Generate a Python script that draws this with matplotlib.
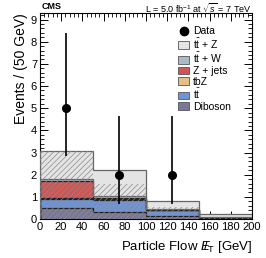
import numpy as np
import matplotlib
matplotlib.use("Agg")
import matplotlib.pyplot as plt
from matplotlib.ticker import MultipleLocator
from matplotlib.patches import Patch
from matplotlib.lines import Line2D

plt.rcParams['font.family'] = ['Liberation Sans', 'DejaVu Sans']
plt.rcParams['mathtext.fontset'] = 'custom'
plt.rcParams['mathtext.rm'] = 'Liberation Sans'
plt.rcParams['mathtext.it'] = 'Liberation Sans:italic'
plt.rcParams['hatch.linewidth'] = 0.5

edges = [0, 50, 100, 150, 200]
centers = [25, 75, 125, 175]
diboson = [0.50, 0.30, 0.13, 0.02]
ttbar = [0.40, 0.55, 0.27, 0.03]
tbz = [0.05, 0.05, 0.00, 0.00]
zjets = [0.77, 0.05, 0.00, 0.00]
ttw = [0.08, 0.10, 0.05, 0.02]
ttz = [1.25, 1.15, 0.35, 0.15]
band_hi = [3.05, 1.60, 0.55, 0.05]
data = [5, 2, 2, 0]
data_lo = [2.16, 1.30, 1.30, 0]
data_hi = [3.38, 2.65, 2.65, 0]

labels = ["Diboson", r"t$\bar{\rm t}$", "tbZ", "Z + jets", r"t$\bar{\rm t}$ + W", r"t$\bar{\rm t}$ + Z"]
series = [diboson, ttbar, tbz, zjets, ttw, ttz]
colors = ["#7b7897", "#6f94d8", "#e5bf85", "#d05555", "#a8bcc8", "#e4e4e4"]
edgecols = ["#222222", "#222222", "#222222", "#222222", "#666666", "#666666"]

fig = plt.figure(figsize=(2.66, 2.58), dpi=100)
ax = fig.add_axes([0.150, 0.151, 0.797, 0.799])

base = np.zeros(4)
for vals, col, ec in zip(series, colors, edgecols):
    top = base + np.array(vals)
    ax.stairs(top, edges, baseline=base, fill=True, color=col, lw=0, zorder=2)
    ax.stairs(top, edges, baseline=0, color=ec, lw=0.9, zorder=3)
    base = top

ax.stairs(band_hi, edges, baseline=0, fill=True, facecolor='none',
          edgecolor='#8a8a8a', hatch='//////', lw=0, zorder=4)

d = np.array(data, float)
m = d > 0
ax.errorbar(np.array(centers)[m], d[m],
            yerr=[np.array(data_lo)[m], np.array(data_hi)[m]],
            fmt='o', color='black', ms=5.5, elinewidth=1.2, capsize=0, zorder=6)

ax.set_xlim(0, 200)
ax.set_ylim(0, 9.3)
ax.xaxis.set_major_locator(MultipleLocator(20))
ax.xaxis.set_minor_locator(MultipleLocator(4))
ax.yaxis.set_major_locator(MultipleLocator(1))
ax.yaxis.set_minor_locator(MultipleLocator(0.2))
ax.tick_params(which='both', direction='in', top=True, right=True, labelsize=8, pad=2)
ax.tick_params(which='major', length=6, width=0.7)
ax.tick_params(which='minor', length=3, width=0.6)
for s in ax.spines.values():
    s.set_linewidth(0.8)

ax.set_ylabel("Events / (50 GeV)", fontsize=10, loc='top', labelpad=2)
ax.set_xlabel(r"Particle Flow $E\!\!\!/_{\rm T}$ [GeV]", fontsize=9.5, loc='right', labelpad=5)

fig.text(0.155, 0.994, "CMS", fontsize=6.5, fontweight='bold', ha='left', va='top')
fig.text(0.947, 0.994, r"L = 5.0 fb$^{-1}$ at $\sqrt{s}$ = 7 TeV", fontsize=6.5, ha='right', va='top')

handles = [Line2D([], [], marker='o', color='black', ls='none', ms=6)]
leg_labels = ["Data"]
for vals, col, lab, ec in list(zip(series, colors, labels, edgecols))[::-1]:
    handles.append(Patch(facecolor=col, edgecolor='#555555', lw=0.6))
    leg_labels.append(lab)
ax.legend(handles, leg_labels, loc='upper right', bbox_to_anchor=(0.92, 0.955),
          frameon=False, fontsize=7.5, handlelength=1.0, handleheight=0.75,
          handletextpad=0.4, labelspacing=0.05, borderaxespad=0)

fig.savefig("out.png", dpi=100)
